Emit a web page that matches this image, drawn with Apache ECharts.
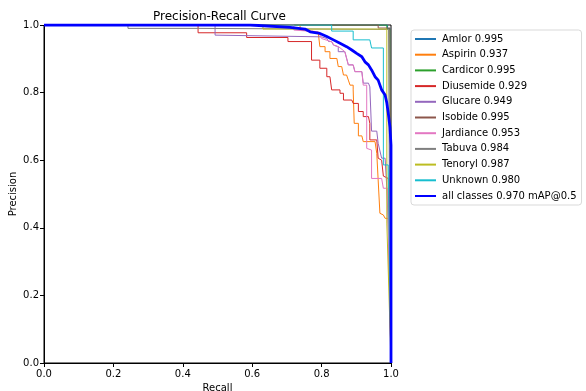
<!DOCTYPE html>
<html>
<head>
<meta charset="utf-8">
<script src="https://cdn.jsdelivr.net/npm/echarts@6/dist/echarts.min.js"></script>
<style>
html,body{margin:0;padding:0;background:#fff;}
#chart{width:586px;height:391px;}
</style>
</head>
<body>
<div id="chart"></div>
<script>
// ---- data ----
const classNames = ['Amlor','Aspirin','Cardicor','Diusemide','Glucare','Isobide','Jardiance','Tabuva','Tenoryl','Unknown'];
const apValues = [0.995,0.937,0.995,0.929,0.949,0.995,0.953,0.984,0.987,0.980];
const allClassesLabel = 'all classes 0.970 mAP@0.5';
const xTicks = [0,0.2,0.4,0.6,0.8,1.0];
const yTicks = [0,0.2,0.4,0.6,0.8,1.0];

const amlor = [[0,1],[0.990,1],[0.990,0.990],[0.998,0.990],[1.0,0]];
const aspirin = [[0,1],[0.738,1],[0.738,0.985],[0.790,0.980],[0.795,0.975],[0.795,0.936],[0.810,0.936],[0.810,0.921],[0.824,0.921],[0.824,0.901],[0.844,0.901],[0.848,0.877],[0.858,0.877],[0.863,0.852],[0.872,0.852],[0.877,0.837],[0.882,0.822],[0.891,0.822],[0.891,0.808],[0.894,0.803],[0.894,0.709],[0.906,0.709],[0.906,0.672],[0.916,0.672],[0.920,0.655],[0.954,0.655],[0.959,0.620],[0.963,0.620],[0.968,0.443],[0.978,0.438],[0.983,0.428],[0.992,0.428],[1.0,0]];
const cardicor = [[0,1],[0.988,1],[0.988,0.988],[0.997,0.988],[1.0,0]];
const diusemide = [[0,1],[0.444,1],[0.444,0.977],[0.584,0.977],[0.584,0.963],[0.703,0.963],[0.703,0.951],[0.771,0.951],[0.771,0.896],[0.795,0.896],[0.795,0.872],[0.815,0.872],[0.815,0.847],[0.824,0.847],[0.829,0.808],[0.853,0.808],[0.853,0.798],[0.863,0.798],[0.863,0.778],[0.887,0.778],[0.891,0.768],[0.906,0.768],[0.906,0.744],[0.920,0.744],[0.920,0.729],[0.935,0.729],[0.939,0.709],[0.939,0.660],[0.959,0.660],[0.963,0.606],[0.973,0.600],[0.978,0.553],[0.992,0.546],[1.0,0]];
const glucare = [[0,1],[0.493,1],[0.493,0.970],[0.800,0.965],[0.805,0.960],[0.815,0.960],[0.820,0.951],[0.829,0.951],[0.834,0.941],[0.848,0.936],[0.848,0.921],[0.867,0.921],[0.877,0.882],[0.891,0.882],[0.896,0.862],[0.916,0.862],[0.920,0.828],[0.935,0.828],[0.939,0.817],[0.944,0.817],[0.944,0.686],[0.959,0.686],[0.963,0.650],[0.973,0.606],[0.983,0.606],[0.988,0.517],[0.992,0.517],[0.992,0.410],[1.0,0]];
const isobide = [[0,1],[0.963,1],[0.963,0.991],[0.997,0.991],[1.0,0]];
const jardiance = [[0,1],[0.720,1],[0.720,0.985],[0.790,0.980],[0.800,0.960],[0.830,0.950],[0.835,0.940],[0.850,0.935],[0.867,0.921],[0.877,0.882],[0.891,0.882],[0.896,0.862],[0.916,0.862],[0.920,0.822],[0.930,0.822],[0.930,0.635],[0.944,0.630],[0.944,0.546],[0.973,0.546],[0.978,0.517],[0.990,0.517],[1.0,0]];
const tabuva = [[0,1],[0.242,1],[0.242,0.990],[0.444,0.990],[0.444,0.987],[0.993,0.987],[0.995,0.606],[1.0,0]];
const tenoryl = [[0,1],[0.631,1],[0.631,0.988],[0.988,0.988],[0.988,0.414],[1.0,0]];
const unknown = [[0,1],[0.829,1],[0.829,0.982],[0.891,0.982],[0.891,0.956],[0.939,0.956],[0.944,0.932],[0.978,0.932],[0.978,0.586],[0.992,0.586],[1.0,0]];
const allClasses = [[0,1],[0.594,1],[0.709,0.993],[0.752,0.988],[0.767,0.980],[0.795,0.975],[0.815,0.966],[0.834,0.956],[0.853,0.946],[0.872,0.936],[0.887,0.926],[0.901,0.916],[0.916,0.906],[0.925,0.891],[0.935,0.882],[0.944,0.867],[0.954,0.847],[0.963,0.837],[0.973,0.808],[0.983,0.793],[0.988,0.769],[0.992,0.740],[0.997,0.698],[1.0,0.645],[1.0,0]];

const classData = [amlor,aspirin,cardicor,diusemide,glucare,isobide,jardiance,tabuva,tenoryl,unknown];
const classColors = ['#1f77b4','#ff7f0e','#2ca02c','#d62728','#9467bd','#8c564b','#e377c2','#7f7f7f','#bcbd22','#17becf'];

// ---- chart ----
const font = 'DejaVu Sans';
const chart = echarts.init(document.getElementById('chart'), null, {renderer:'canvas'});
const series = classNames.map((n,i)=>({
  name: n + ' ' + apValues[i].toFixed(3),
  type:'line', data: classData[i], symbol:'none', showSymbol:false,
  lineStyle:{width:1,color:classColors[i]}, itemStyle:{color:classColors[i]},
  animation:false, clip:true
}));
series.push({
  name: allClassesLabel, type:'line', data: allClasses, symbol:'none', showSymbol:false,
  lineStyle:{width:2.8,color:'#0000ff'}, itemStyle:{color:'#0000ff'}, animation:false, clip:true
});

const axisCommon = {
  type:'value', min:0, max:1, interval:0.2,
  axisLine:{show:true,lineStyle:{color:'#000',width:1}},
  axisTick:{show:true,inside:false,length:4,lineStyle:{color:'#000'}},
  splitLine:{show:false},
  axisLabel:{fontFamily:font,fontSize:10,color:'#000',formatter:v=>v.toFixed(1)},
  nameTextStyle:{fontFamily:font,fontSize:10,color:'#000'},
  nameLocation:'middle', nameMoveOverlap:false
};

chart.setOption({
  backgroundColor:'#fff',
  animation:false,
  title:{text:'Precision-Recall Curve',left:148,top:6,
    textStyle:{fontFamily:font,fontSize:12,fontWeight:'normal',color:'#000'}},
  grid:{left:44,top:25,width:347,height:338,containLabel:false,outerBoundsMode:'none',
    show:true,borderColor:'#000',borderWidth:1,backgroundColor:'transparent'},
  xAxis:Object.assign({},axisCommon,{name:'Recall',nameGap:20,axisLabel:Object.assign({},axisCommon.axisLabel,{margin:6})}),
  yAxis:Object.assign({},axisCommon,{name:'Precision',nameGap:26,axisLabel:Object.assign({},axisCommon.axisLabel,{margin:5})}),
  legend:{
    orient:'vertical', left:411, top:30,
    itemWidth:21, itemHeight:10, itemGap:5.7,
    padding:[4,5,4,3],
    borderColor:'#d9d9d9', borderWidth:1, borderRadius:3,
    itemStyle:{color:'rgba(0,0,0,0)',borderWidth:0,opacity:0},
    textStyle:{fontFamily:font,fontSize:10,color:'#000',padding:[0,0,0,1]},
    data: series.map(s=>s.name)
  },
  series: series
});
</script>
</body>
</html>
